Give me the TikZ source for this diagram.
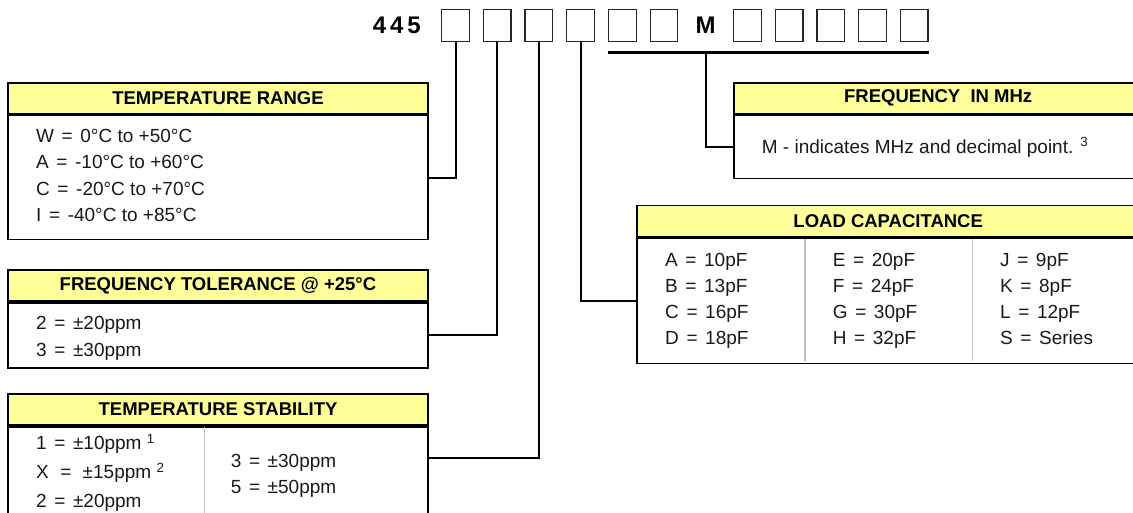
\documentclass[tikz,border=0pt]{standalone}
\usepackage{fontspec}
\setmainfont{Liberation Sans}
\usepackage{tikz}
\usetikzlibrary{positioning}
\definecolor{hdryellow}{HTML}{FFFF99}
\definecolor{divgray}{HTML}{C0C0C0}
\newcommand{\hdrfont}{\fontsize{18.5}{21}\selectfont\bfseries}
\newcommand{\txtfont}{\fontsize{19}{23}\selectfont}
\newcommand{\codefont}{\fontsize{24}{27}\selectfont\bfseries}
\newcommand{\isq}{\hspace{0.4em}=\hspace{0.4em}}

\tikzset{
  codebox/.style={draw=black!85,line width=1.2pt,minimum width=27.7pt,minimum height=32.4pt,inner sep=0pt},
  headbox/.style={draw,line width=1.8pt,fill=hdryellow,minimum height=31pt,inner sep=0pt,font=\hdrfont},
  bodybox/.style={draw,line width=1.8pt,inner sep=0pt},
  entry/.style={anchor=base west,inner sep=0pt,font=\txtfont,text=black!90},
  link/.style={line width=2pt},
  coldiv/.style={divgray,line width=1.6pt}
}

\begin{document}
\begin{tikzpicture}[x=1pt,y=-1pt]
  \useasboundingbox (0,0) rectangle (1133,512);
  \clip (0,0) rectangle (1133,512);
  % part number with its code boxes
  \node[font=\codefont,anchor=east,inner sep=0pt] (pn) at (421,25.5) {4\kern4pt4\kern4pt5};
  \foreach \i in {0,1,2,3,4,5,7,8,9,10,11}
    \node[codebox] (c\i) at (455.5+41.7*\i,25.5) {};
  \node[font=\codefont,inner sep=0pt] (cm) at (455.5+41.7*6,25.5) {M};
  % bar under the frequency digits
  \coordinate (ulL) at ([yshift=-10pt]c4.south west);
  \coordinate (ulR) at ([yshift=-10pt]c11.south east);
  \coordinate (ulM) at (cm |- ulL);

  % temperature range
  \node[headbox,minimum width=419.4pt] (trh) at (218,98.2) {TEMPERATURE RANGE};
  \node[bodybox,minimum width=419.4pt,minimum height=124pt,below=0pt of trh] (trb) {};
  \draw[line width=3pt] (trh.south west) -- (trh.south east);
  \foreach \t [count=\k] in {{W\isq 0°C to +50°C},{A\isq -10°C to +60°C},{C\isq -20°C to +70°C},{I\isq -40°C to +85°C}}
    \node[entry] (tr\k) at (36,116.2+26.3*\k) {\t};

  % frequency tolerance
  \node[headbox,minimum width=419.4pt] (fth) at (218,285.5) {FREQUENCY TOLERANCE @ +25°C};
  \node[bodybox,minimum width=419.4pt,minimum height=65pt,below=0pt of fth] (ftb) {};
  \draw[line width=3pt] (fth.south west) -- (fth.south east);
  \node[entry] (ft1) at (36,329.5) {2\isq ±20ppm};
  \node[entry] (ft2) at (36,356) {3\isq ±30ppm};

  % temperature stability (runs off the bottom)
  \node[headbox,minimum width=419.4pt] (tsh) at (218,409.5) {TEMPERATURE STABILITY};
  \node[bodybox,minimum width=419.4pt,minimum height=120pt,below=0pt of tsh] (tsb) {};
  \draw[coldiv] (204.4,426) -- (204.4,540);
  \draw[line width=3pt] (tsh.south west) -- (tsh.south east);
  \node[entry] (ts1) at (36,449.6) {1\isq ±10ppm \textsuperscript{1}};
  \node[entry] (ts2) at (36,478.4) {X\hspace{0.2em}\isq\hspace{0.2em}±15ppm \textsuperscript{2}};
  \node[entry] (ts3) at (36,507.5) {2\isq ±20ppm};
  \node[entry] (ts4) at (230.7,467.1) {3\isq ±30ppm};
  \node[entry] (ts5) at (230.7,493.4) {5\isq ±50ppm};
  \coordinate (tsj) at (tsb.east |- 0,457.8);

  % frequency in MHz (runs off the right)
  \node[headbox,minimum width=407.7pt] (fmh) at (938.2,98.2) {FREQUENCY\ \ IN MHz};
  \node[bodybox,minimum width=407.7pt,minimum height=63pt,below=0pt of fmh] (fmb) {};
  \draw[line width=3pt] (fmh.south west) -- (fmh.south east);
  \node[entry] (fm1) at (761.7,153.2) {M - indicates MHz and decimal point. \textsuperscript{3}};

  % load capacitance, three columns
  \node[headbox,minimum width=501.7pt] (lch) at (888.2,221) {LOAD CAPACITANCE};
  \node[bodybox,minimum width=501.7pt,minimum height=125.2pt,below=0pt of lch] (lcb) {};
  \draw[coldiv] (805,237.5) -- (805,361);
  \draw[coldiv] (972.3,237.5) -- (972.3,361);
  \draw[line width=3pt] (lch.south west) -- (lch.south east);
  \foreach \t [count=\k] in {{A\isq 10pF},{B\isq 13pF},{C\isq 16pF},{D\isq 18pF}}
    \node[entry] (lca\k) at (665,240.5+26.1*\k) {\t};
  \foreach \t [count=\k] in {{E\isq 20pF},{F\isq 24pF},{G\isq 30pF},{H\isq 32pF}}
    \node[entry] (lcb\k) at (832.7,240.5+26.1*\k) {\t};
  \foreach \t [count=\k] in {{J\isq 9pF},{K\isq 8pF},{L\isq 12pF},{S\isq Series}}
    \node[entry] (lcc\k) at (1000,240.5+26.1*\k) {\t};

  % leaders from the code boxes
  \draw[link,line width=2.5pt] (ulL) -- (ulR);
  \draw[link] (c0.south) |- (trb.east);
  \draw[link] (c1.south) |- (ftb.east);
  \draw[link] (c2.south) |- (tsj);
  \draw[link] (c3.south) |- (lcb.west);
  \draw[link] (ulM) |- (fmb.west);
\end{tikzpicture}
\end{document}
